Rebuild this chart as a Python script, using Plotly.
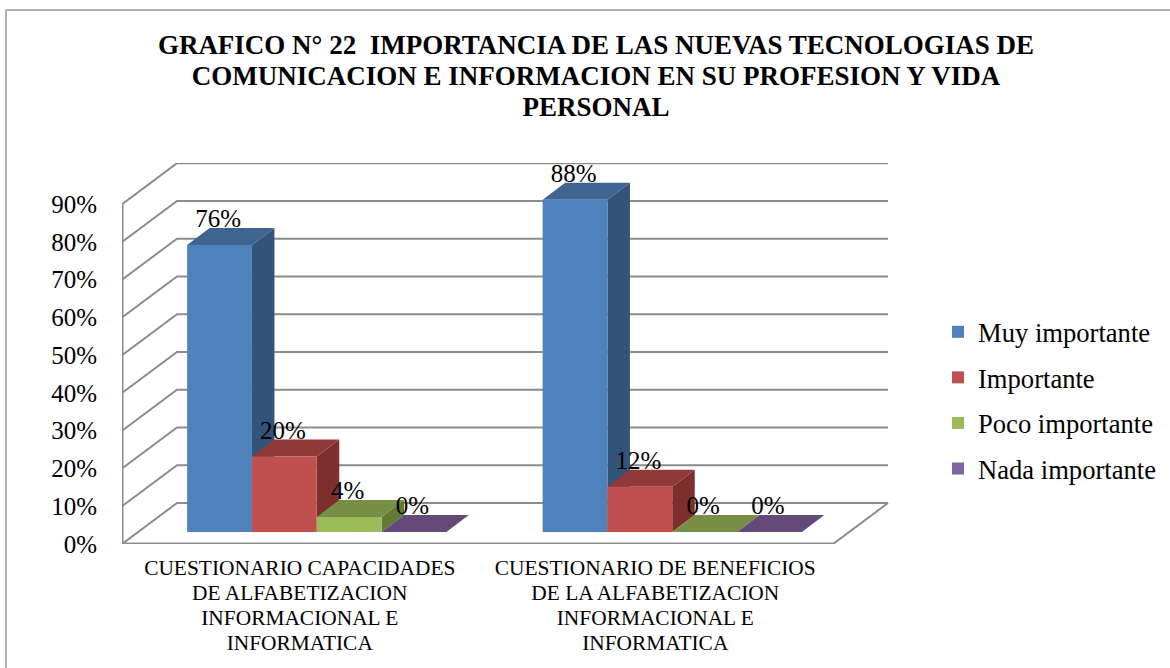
import plotly.graph_objects as go

# ---- data ----
title_lines = ["GRAFICO N° 22\u00a0 IMPORTANCIA DE LAS NUEVAS TECNOLOGIAS DE",
               "COMUNICACION E INFORMACION EN SU PROFESION Y VIDA",
               "PERSONAL"]
categories = [["CUESTIONARIO CAPACIDADES", "DE ALFABETIZACION", "INFORMACIONAL E", "INFORMATICA"],
              ["CUESTIONARIO DE BENEFICIOS", "DE LA ALFABETIZACION", "INFORMACIONAL E", "INFORMATICA"]]
muy_importante = [76, 88]
importante = [20, 12]
poco_importante = [4, 0]
nada_importante = [0, 0]
series_names = ["Muy importante", "Importante", "Poco importante", "Nada importante"]
y_ticks = [0, 10, 20, 30, 40, 50, 60, 70, 80, 90]
y_labels = ["0%", "10%", "20%", "30%", "40%", "50%", "60%", "70%", "80%", "90%"]

front_colors = ["#4F81BD", "#C0504D", "#9BBB59", "#8064A2"]
top_colors = ["#3E648F", "#8F3A38", "#778F44", "#644A7B"]
side_colors = ["#335379", "#7D2F2D", "#617A34", "#4F3A63"]
all_series = [muy_importante, importante, poco_importante, nada_importante]

# ---- layout constants ----
W, H = 1170, 668
L, R, T, B = 122, 889, 163, 544       # plot box in pixels
PX_Y = 3.776                           # pixels per percent
PX_X = 355.5                           # pixels per category
DX, DY = 55 / PX_X, 41 / PX_Y          # depth of the floor
BAR_W = 64.8 / PX_X
SHIFT = 17 / PX_X
BX, BY = 22.5 / PX_X, 17 / PX_Y        # depth of a bar
BASE = 12 / PX_Y                       # front of bars above the floor
LABEL_UP = 24 / PX_Y
X0, X1 = -0.5, 1.5
xrange_ = [X0, X1 + (R - L - 2 * PX_X) / PX_X]
yrange_ = [0, (B - T) / PX_Y]
GRID = "#8C8C8C"
FONT = "Liberation Serif"


def sized(text, px):
    # the outer font size sets the line spacing, this span sets the glyph size
    return f'<span style="font-size:{px}px">{text}</span>'


fig = go.Figure()


def line(xs, ys, width=2, color=GRID):
    fig.add_trace(go.Scatter(x=xs, y=ys, mode="lines", line=dict(color=color, width=width),
                             showlegend=False, hoverinfo="skip", cliponaxis=False))


def poly(xs, ys, color):
    fig.add_trace(go.Scatter(x=xs, y=ys, mode="lines", fill="toself", fillcolor=color,
                             line=dict(width=0, color=color), showlegend=False,
                             hoverinfo="skip", cliponaxis=False))


# walls and floor
for t in y_ticks:
    line([X0, X0 + DX, X1 + DX], [t, t + DY, t + DY], width=2)
line([X0, X0], [0, y_ticks[-1]], width=3)
line([X0, X1], [0, 0], width=3)
line([X1, X1 + DX], [0, DY], width=2)

# sides and tops of the bars, under the front faces
for j, vals in enumerate(all_series):
    for i, v in enumerate(vals):
        left = i + SHIFT + (j - 2) * BAR_W
        right = left + BAR_W
        top = BASE + v
        poly([right, right + BX, right + BX, right, right],
             [BASE, BASE + BY, top + BY, top, BASE], side_colors[j])
        poly([left, left + BX, right + BX, right, left],
             [top, top + BY, top + BY, top, top], top_colors[j])

# front faces: real bars on an overlaid pair of axes
for j, vals in enumerate(all_series):
    fig.add_trace(go.Bar(
        x=[i + SHIFT + (j - 1.5) * BAR_W for i in range(len(vals))],
        y=vals, base=[BASE] * len(vals), width=BAR_W, name=series_names[j],
        marker=dict(color=front_colors[j], line=dict(width=0)),
        xaxis="x2", yaxis="y2", legendgroup=series_names[j]))

# data labels
for j, vals in enumerate(all_series):
    fig.add_trace(go.Scatter(
        x=[i + SHIFT + (j - 1.5) * BAR_W - 1.5 / PX_X for i in range(len(vals))],
        y=[BASE + v + LABEL_UP for v in vals],
        text=[f"{v}%" for v in vals], mode="text", textposition="middle center",
        textfont=dict(family=FONT, size=25, color="#000000"),
        showlegend=False, hoverinfo="skip", cliponaxis=False,
        xaxis="x2", yaxis="y2"))

# frame: top and left edges only
shapes = [
    dict(type="line", xref="paper", yref="paper",
         x0=(6 - L) / (R - L), x1=(W - L) / (R - L),
         y0=(B - 10) / (B - T), y1=(B - 10) / (B - T),
         line=dict(color="#B0B0B0", width=2), layer="below"),
    dict(type="line", xref="paper", yref="paper",
         x0=(6 - L) / (R - L), x1=(6 - L) / (R - L),
         y0=(B - 10) / (B - T), y1=(B - H) / (B - T),
         line=dict(color="#B0B0B0", width=2), layer="below"),
]

fig.update_layout(
    width=W, height=H, autosize=False,
    margin=dict(l=L, r=W - R, t=T, b=H - B, pad=0, autoexpand=False),
    paper_bgcolor="white", plot_bgcolor="rgba(0,0,0,0)",
    barmode="overlay", shapes=shapes,
    font=dict(family=FONT, color="#000000"),
    title=dict(text="<br>".join(sized(s, 27) for s in title_lines), x=596 / W, xanchor="center",
               xref="container",
               y=1 - 54 / H, yanchor="top",
               font=dict(family=FONT, size=24, color="#000000", weight="bold")),
    xaxis=dict(range=xrange_, tickmode="array", tickvals=[0, 1],
               ticktext=["<br>".join(sized(s, 21.4) for s in c) for c in categories],
               ticks="outside", ticklen=7, tickcolor="rgba(0,0,0,0)", showgrid=False,
               zeroline=False, showline=False,
               tickangle=0, tickfont=dict(family=FONT, size=19.2, color="#000000")),
    yaxis=dict(range=yrange_, tickmode="array", tickvals=y_ticks, ticktext=y_labels,
               ticks="outside", ticklen=19, tickcolor="rgba(0,0,0,0)", showgrid=False,
               zeroline=False, showline=False,
               tickfont=dict(family=FONT, size=25, color="#000000")),
    xaxis2=dict(range=xrange_, overlaying="x", anchor="y2", visible=False),
    yaxis2=dict(range=yrange_, overlaying="y", anchor="x2", visible=False),
    legend=dict(x=(938 - L) / (R - L), xanchor="left", y=(B - 308) / (B - T), yanchor="top",
                font=dict(family=FONT, size=26.6, color="#000000"), tracegroupgap=8,
                bgcolor="rgba(0,0,0,0)", itemclick=False, itemdoubleclick=False),
)

fig.write_html("out.html", config=dict(displayModeBar=False),
               post_script="document.body.style.margin='0';document.body.style.overflow='hidden';")
